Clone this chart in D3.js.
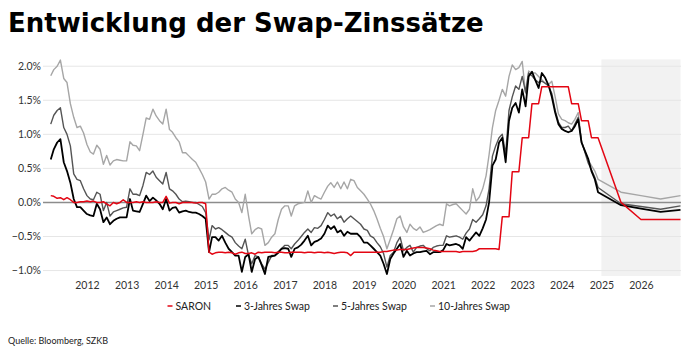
<!DOCTYPE html>
<html>
<head>
<meta charset="utf-8">
<script src="https://cdn.jsdelivr.net/npm/d3@7"></script>
<style>
  body { margin: 0; background: #fff; }
  svg text { font-family: Lato, "Open Sans", sans-serif; }
</style>
</head>
<body>
<div id="chart"></div>
<script>
// monthly values, end of month Jan 2011 .. Nov 2024 (in %)
const saron = [
  0.10, 0.09, 0.06, 0.07, 0.04, 0.07, 0.04, 0.00, 0.00, 0.01, 0.01, 0.02,
  0.01, 0.02, 0.00, 0.00, 0.01, -0.02, -0.05, 0.00, -0.02, 0.00, 0.04, 0.00,
  0.00, 0.00, 0.01, 0.00, 0.01, 0.00, 0.00, 0.00, 0.01, 0.00, 0.00, 0.09,
  -0.01, 0.00, 0.00, -0.02, 0.00, 0.00, 0.00, 0.00, -0.01, 0.00, 0.00, -0.02,
  -0.73, -0.76, -0.74, -0.73, -0.73, -0.74, -0.73, -0.74, -0.76, -0.74, -0.73, -0.75,
  -0.75, -0.74, -0.76, -0.73, -0.74, -0.73, -0.73, -0.73, -0.74, -0.73, -0.73, -0.74,
  -0.74, -0.73, -0.73, -0.73, -0.73, -0.74, -0.73, -0.73, -0.74, -0.73, -0.73, -0.74,
  -0.73, -0.74, -0.75, -0.74, -0.73, -0.73, -0.74, -0.78, -0.73, -0.73, -0.73, -0.73,
  -0.73, -0.73, -0.73, -0.73, -0.73, -0.72, -0.72, -0.71, -0.70, -0.70, -0.69, -0.69,
  -0.69, -0.68, -0.67, -0.66, -0.66, -0.66, -0.67, -0.68, -0.70, -0.71, -0.72, -0.72,
  -0.72, -0.72, -0.72, -0.72, -0.73, -0.72, -0.72, -0.72, -0.72, -0.71, -0.68, -0.68,
  -0.68, -0.68, -0.68, -0.68, -0.69, -0.21, -0.21, -0.21, 0.45, 0.45, 0.45, 0.95,
  0.95, 0.95, 1.45, 1.45, 1.45, 1.70, 1.70, 1.70, 1.70, 1.70, 1.70, 1.70,
  1.70, 1.70, 1.45, 1.45, 1.45, 1.20, 1.20, 1.20, 0.95, 0.95, 0.95
];
const swap3 = [
  0.63, 0.78, 0.88, 0.93, 0.59, 0.46, 0.29, 0.05, -0.07, -0.07,
  -0.12, -0.17, -0.19, -0.20, -0.02, -0.10, -0.29, -0.22, -0.32, -0.27,
  -0.24, -0.22, -0.22, -0.22, 0.05, -0.12, -0.13, -0.14, -0.02, 0.10,
  0.02, 0.07, 0.03, -0.02, -0.10, 0.05, -0.12, -0.08, -0.07, -0.15,
  -0.13, -0.12, -0.14, -0.15, -0.15, -0.17, -0.20, -0.24, -0.73, -0.51,
  -0.51, -0.56, -0.49, -0.59, -0.68, -0.73, -0.78, -0.78, -1.02, -0.80,
  -0.76, -1.02, -0.83, -0.80, -0.92, -1.05, -0.80, -0.79, -0.78, -0.74,
  -0.68, -0.67, -0.68, -0.80, -0.68, -0.66, -0.62, -0.56, -0.49, -0.63,
  -0.58, -0.56, -0.53, -0.46, -0.34, -0.39, -0.35, -0.44, -0.41,
  -0.49, -0.43, -0.46, -0.46, -0.46, -0.51, -0.59, -0.59, -0.63, -0.68,
  -0.73, -0.78, -0.90, -1.05, -0.83, -0.75, -0.68, -0.61, -0.80, -0.71,
  -0.78, -0.75, -0.73, -0.73, -0.72, -0.71, -0.76, -0.73, -0.73, -0.73,
  -0.70, -0.61, -0.63, -0.62, -0.61, -0.63, -0.68, -0.51, -0.56, -0.50,
  -0.44, -0.49, -0.38, -0.25, 0.00, 0.54, 0.63, 0.88, 0.95, 0.59,
  1.20, 1.39, 1.46, 1.32, 1.66, 1.41, 1.85, 1.92, 1.80, 1.68,
  1.90, 1.83, 1.72, 1.55, 1.32, 1.15, 1.08, 1.05, 1.03, 1.05,
  1.12, 1.22, 0.88, 0.76, 0.64, 0.46, 0.34, 0.15
];
const swap5 = [
  1.15, 1.28, 1.35, 1.39, 1.10, 1.00, 0.83, 0.42, 0.34, 0.32,
  0.20, 0.10, 0.05, 0.04, 0.15, 0.12, -0.12, 0.00, -0.20, -0.14,
  -0.12, -0.10, -0.08, -0.07, 0.20, 0.12, 0.12, 0.10, 0.25, 0.44,
  0.41, 0.46, 0.37, 0.32, 0.27, 0.44, 0.20, 0.17, 0.12, 0.05,
  0.01, 0.02, 0.01, 0.00, 0.00, -0.03, -0.06, -0.15, -0.55, -0.34,
  -0.39, -0.37, -0.40, -0.44, -0.48, -0.51, -0.59, -0.64, -0.68, -0.54,
  -0.78, -0.90, -0.78, -0.80, -0.90, -0.98, -0.88, -0.78, -0.78, -0.72,
  -0.68, -0.63, -0.63, -0.68, -0.61, -0.56, -0.50, -0.44, -0.39, -0.44,
  -0.37, -0.38, -0.34, -0.25, -0.15, -0.20, -0.17, -0.24, -0.20,
  -0.29, -0.24, -0.20, -0.24, -0.28, -0.32, -0.39, -0.41, -0.49, -0.52,
  -0.59, -0.65, -0.75, -0.95, -0.78, -0.73, -0.59, -0.51, -0.71, -0.66,
  -0.63, -0.73, -0.66, -0.64, -0.63, -0.68, -0.71, -0.66, -0.64, -0.63,
  -0.63, -0.49, -0.51, -0.50, -0.49, -0.51, -0.54, -0.45, -0.39, -0.25,
  -0.29, -0.24, -0.18, -0.05, 0.20, 0.68, 0.83, 0.95, 1.00, 0.71,
  1.35, 1.55, 1.71, 1.66, 1.85, 1.62, 1.90, 1.86, 1.80, 1.76,
  1.78, 1.75, 1.71, 1.60, 1.35, 1.18, 1.10, 1.10, 1.12, 1.05,
  1.15, 1.25, 0.90, 0.74, 0.58, 0.48, 0.37, 0.22
];
const swap10 = [
  1.86, 1.95, 2.00, 2.09, 1.82, 1.76, 1.45, 1.25, 1.10, 1.12,
  1.02, 0.85, 0.74, 0.71, 0.84, 0.78, 0.56, 0.69, 0.55, 0.61,
  0.63, 0.62, 0.61, 0.61, 0.89, 0.84, 0.83, 0.76, 1.00, 1.24,
  1.22, 1.37, 1.27, 1.20, 1.15, 1.37, 1.07, 1.03, 0.95, 0.89,
  0.73, 0.73, 0.68, 0.63, 0.59, 0.50, 0.41, 0.30, 0.05, 0.12,
  0.12, 0.15, 0.20, 0.22, 0.18, 0.15, 0.05, 0.00, -0.15, 0.12,
  -0.20, -0.46, -0.40, -0.37, -0.39, -0.63, -0.59, -0.51, -0.46, -0.25,
  -0.10, -0.05, -0.05, -0.20, -0.05, -0.02, -0.01, 0.00, 0.17, 0.00,
  0.10, 0.07, 0.05, 0.15, 0.24, 0.29, 0.22, 0.30, 0.20,
  0.30, 0.20, 0.34, 0.32, 0.22, 0.17, 0.12, 0.05, -0.02, -0.12,
  -0.24, -0.38, -0.50, -0.68, -0.54, -0.40, -0.24, -0.20, -0.36, -0.44,
  -0.32, -0.38, -0.41, -0.36, -0.44, -0.42, -0.40, -0.37, -0.34, -0.32,
  -0.34, -0.02, -0.05, -0.03, -0.02, -0.07, -0.12, -0.17, -0.10, 0.20,
  0.02, 0.08, 0.20, 0.39, 0.70, 1.10, 1.35, 1.50, 1.66, 1.56,
  1.85, 2.02, 1.95, 1.98, 2.07, 1.60, 1.93, 1.90, 1.90, 1.85,
  1.80, 1.75, 1.73, 1.78, 1.55, 1.30, 1.22, 1.20, 1.17, 1.15,
  1.22, 1.32, 0.90, 0.75, 0.62, 0.54, 0.46, 0.34
];

// forecast (mid 2025, end 2025, mid 2026, end 2026)
const forecastDates = ["2025-07-01", "2026-01-01", "2026-07-01", "2027-01-01"];
const saronFc = [0.00, -0.25, -0.25, -0.25];
const swap3Fc = [-0.04, -0.09, -0.14, -0.11];
const swap5Fc = [-0.02, -0.06, -0.10, -0.05];
const swap10Fc = [0.15, 0.10, 0.05, 0.10];

const seriesNames = ["SARON", "3-Jahres Swap", "5-Jahres Swap", "10-Jahres Swap"];
const seriesColors = ["#e30613", "#000000", "#555555", "#a6a6a6"];
const yTicks = [-1.0, -0.5, 0.0, 0.5, 1.0, 1.5, 2.0];
const yearTicks = d3.range(2012, 2027);

const W = 690, H = 351;
const svg = d3.select("#chart").append("svg")
  .attr("width", W)
  .attr("height", H);

// month-end points are placed on the 1st of the following month
const histDates = d3.timeMonth.range(new Date(2011, 1, 1), new Date(2024, 11, 2));
const parse = d3.timeParse("%Y-%m-%d");
const fcDates = forecastDates.map(parse);

const x = d3.scaleTime()
  .domain([new Date(2011, 0, 1), new Date(2027, 0, 1)])
  .range([47.4, 680.5]);

const y = d3.scaleLinear()
  .domain([-1.08, 2.1])
  .range([276, 59.4]);

// forecast area
svg.append("rect")
  .attr("x", x(new Date(2025, 0, 1)))
  .attr("y", y(2.1))
  .attr("width", x(new Date(2027, 0, 1)) - x(new Date(2025, 0, 1)))
  .attr("height", y(-1.08) - y(2.1))
  .attr("fill", "#f2f2f2");

// grid
svg.append("g")
  .selectAll("line")
  .data(yTicks.filter(d => d !== 0))
  .enter().append("line")
  .attr("x1", 43)
  .attr("x2", 681)
  .attr("y1", d => y(d))
  .attr("y2", d => y(d))
  .attr("stroke", "#e6e6e6")
  .attr("stroke-width", 1);

const yAxis = svg.append("g")
  .attr("transform", "translate(41,0)")
  .call(d3.axisLeft(y).tickValues(yTicks).tickSize(0).tickPadding(0)
    .tickFormat(d => d3.format(".1f")(d) + "%"));
yAxis.select(".domain").remove();
yAxis.selectAll("text")
  .attr("fill", "#333")
  .style("font-size", "10.5px");

const xAxis = svg.append("g")
  .attr("transform", `translate(0,${y(-1.08)})`)
  .call(d3.axisBottom(x).tickValues(yearTicks.map(yr => new Date(yr, 0, 1)))
    .tickSize(0).tickPadding(6).tickFormat(d3.timeFormat("%Y")));
xAxis.select(".domain").remove();
xAxis.selectAll("text")
  .attr("fill", "#333")
  .style("font-size", "10.5px");

// zero line
svg.append("line")
  .attr("x1", 43)
  .attr("x2", 681)
  .attr("y1", y(0))
  .attr("y2", y(0))
  .attr("stroke", "#8c8c8c")
  .attr("stroke-width", 1.5);

const series = [
  { name: seriesNames[3], color: seriesColors[3], hist: swap10, fc: swap10Fc, w: 1.4 },
  { name: seriesNames[2], color: seriesColors[2], hist: swap5, fc: swap5Fc, w: 1.4 },
  { name: seriesNames[1], color: seriesColors[1], hist: swap3, fc: swap3Fc, w: 1.8 },
  { name: seriesNames[0], color: seriesColors[0], hist: saron, fc: saronFc, w: 1.5 }
];

const line = d3.line()
  .x(d => x(d.date))
  .y(d => y(d.value));

series.forEach(s => {
  const pts = s.hist.map((v, i) => ({ date: histDates[i], value: v }))
    .concat(s.fc.map((v, i) => ({ date: fcDates[i], value: v })));
  svg.append("path")
    .datum(pts)
    .attr("fill", "none")
    .attr("stroke", s.color)
    .attr("stroke-width", s.w)
    .attr("stroke-linejoin", "round")
    .attr("d", line);
});

// title
svg.append("text")
  .attr("x", 8)
  .attr("y", 32)
  .style("font-family", "'DejaVu Sans', sans-serif")
  .style("font-size", "26px")
  .style("font-weight", "bold")
  .attr("fill", "#000")
  .text("Entwicklung der Swap-Zinssätze");

// legend
const legendX = [167.5, 236, 333, 430];
const legend = svg.append("g");
seriesNames.forEach((name, i) => {
  legend.append("line")
    .attr("x1", legendX[i])
    .attr("x2", legendX[i] + 5)
    .attr("y1", 306)
    .attr("y2", 306)
    .attr("stroke", seriesColors[i])
    .attr("stroke-width", 1.5);
  legend.append("text")
    .attr("x", legendX[i] + 8)
    .attr("y", 310)
    .style("font-size", "10.5px")
    .attr("fill", "#222")
    .text(name);
});

svg.append("text")
  .attr("x", 8)
  .attr("y", 344)
  .style("font-size", "9px")
  .attr("fill", "#222")
  .text("Quelle: Bloomberg, SZKB");
</script>
</body>
</html>
